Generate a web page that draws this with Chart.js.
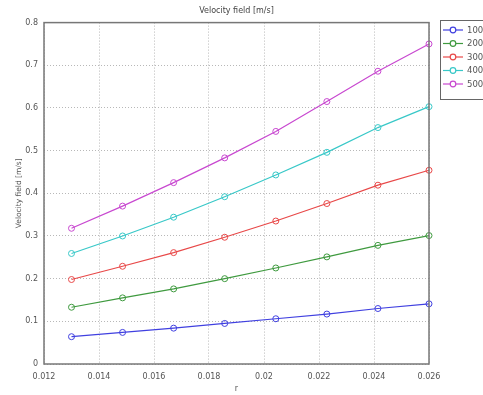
<!DOCTYPE html>
<html>
<head>
<meta charset="utf-8">
<script src="https://cdn.jsdelivr.net/npm/chart.js@4"></script>
<style>
  html, body { margin: 0; padding: 0; background: #fff; }
  #wrap { width: 483px; height: 395px; position: relative; }
</style>
</head>
<body>
<div id="wrap"><canvas id="velocityChart" width="483" height="395"></canvas></div>
<script>
// r values and velocity per series
const r_values = [0.013, 0.014857, 0.016714, 0.018571, 0.020429, 0.022286, 0.024143, 0.026]
const series_labels = ['100', '200', '300', '400', '500']
const series_colors = ['#4040e0', '#3f9a3f', '#e84848', '#38c8c8', '#c848d0']
const v_100 = [0.064, 0.074, 0.084, 0.095, 0.106, 0.117, 0.130, 0.141]
const v_200 = [0.133, 0.155, 0.176, 0.200, 0.225, 0.251, 0.278, 0.301]
const v_300 = [0.198, 0.229, 0.261, 0.297, 0.335, 0.376, 0.419, 0.454]
const v_400 = [0.259, 0.300, 0.344, 0.392, 0.443, 0.496, 0.554, 0.603]
const v_500 = [0.318, 0.370, 0.425, 0.483, 0.545, 0.615, 0.686, 0.750]
const x_ticks = [0.012, 0.014, 0.016, 0.018, 0.02, 0.022, 0.024, 0.026]
const y_ticks = [0, 0.1, 0.2, 0.3, 0.4, 0.5, 0.6, 0.7, 0.8]

const all_values = [v_100, v_200, v_300, v_400, v_500]
const tick_font = { family: 'DejaVu Sans', size: 8 }
const text_color = '#555'

function fmt(v) { return String(+v.toFixed(3)) }

// frame around the plot and a boxed legend on the right
const frameAndLegend = {
    id: 'frameAndLegend',
    afterDraw(chart) {
        const ctx = chart.ctx
        const a = chart.chartArea
        ctx.save()
        ctx.strokeStyle = '#777'
        ctx.lineWidth = 1.5
        ctx.strokeRect(a.left, a.top, a.right - a.left, a.bottom - a.top)

        // legend
        const lx = 440, ly = 20, lw = 50, lh = 79
        ctx.fillStyle = '#fff'
        ctx.fillRect(lx, ly, lw, lh)
        ctx.strokeStyle = '#666'
        ctx.lineWidth = 1
        ctx.strokeRect(lx + 0.5, ly + 0.5, lw, lh)
        ctx.font = '8.5px "DejaVu Sans"'
        ctx.textBaseline = 'middle'
        chart.data.datasets.forEach((ds, i) => {
            const y = 30 + i * 13.5
            ctx.strokeStyle = ds.borderColor
            ctx.lineWidth = 1.2
            ctx.beginPath()
            ctx.moveTo(443, y)
            ctx.lineTo(463, y)
            ctx.stroke()
            ctx.beginPath()
            ctx.arc(453, y, 2.8, 0, Math.PI * 2)
            ctx.fillStyle = '#fff'
            ctx.fill()
            ctx.stroke()
            ctx.fillStyle = '#555'
            ctx.fillText(ds.label, 467, y + 0.5)
        })
        ctx.restore()
    }
}

new Chart('velocityChart', {
    type: 'line',
    data: {
        datasets: series_labels.map((lab, i) => ({
            label: lab,
            data: r_values.map((r, j) => ({ x: r, y: all_values[i][j] })),
            borderColor: series_colors[i],
            backgroundColor: '#fff',
            borderWidth: 1.2,
            pointRadius: 3,
            pointBorderWidth: 1,
            pointBackgroundColor: 'rgba(255,255,255,0)',
            tension: 0,
            clip: false
        }))
    },
    options: {
        responsive: false,
        animation: false,
        layout: { padding: { left: 0, right: 54, top: 0, bottom: 0 } },
        plugins: {
            legend: { display: false },
            tooltip: { enabled: false },
            title: {
                display: true,
                text: 'Velocity field [m/s]',
                fullSize: false,
                color: '#444',
                font: { family: 'DejaVu Sans', size: 8, weight: 'normal' },
                padding: { top: 6, bottom: 7 }
            }
        },
        scales: {
            x: {
                type: 'linear',
                min: 0.012,
                max: 0.026,
                afterBuildTicks(scale) { scale.ticks = x_ticks.map(v => ({ value: v })) },
                afterFit(scale) { scale.height = 31 },
                ticks: { color: text_color, font: tick_font, padding: 8, callback: v => fmt(v), maxRotation: 0 },
                grid: { color: '#b8b8b8', drawTicks: false },
                border: { display: false, dash: [1, 2] },
                title: { display: true, text: 'r', color: text_color, font: tick_font, padding: { top: 2, bottom: 1 } }
            },
            y: {
                min: 0,
                max: 0.8,
                afterBuildTicks(scale) { scale.ticks = y_ticks.map(v => ({ value: v })) },
                afterFit(scale) { scale.width = 44 },
                ticks: { color: text_color, font: tick_font, padding: 6, callback: v => fmt(v) },
                grid: { color: '#b8b8b8', drawTicks: false },
                border: { display: false, dash: [1, 2] },
                title: { display: true, text: 'Velocity field [m/s]', color: text_color, font: { family: 'DejaVu Sans', size: 7.5 }, padding: { top: 15, bottom: 0 } }
            }
        }
    },
    plugins: [frameAndLegend]
})
</script>
</body>
</html>
